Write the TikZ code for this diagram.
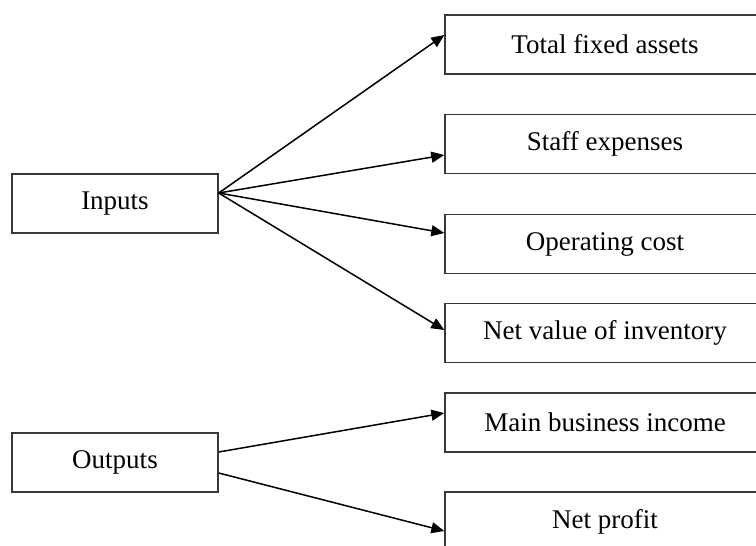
\documentclass[tikz,border=0pt]{standalone}
\usepackage{fontspec}
\setmainfont{Liberation Serif}
\usetikzlibrary{arrows.meta}

\begin{document}
\begin{tikzpicture}[x=0.5pt, y=-0.5pt,
  box/.style={draw=black!78, line width=0.7pt, fill=white, inner sep=0pt,
              minimum height=29.5pt, font=\fontsize{13.5}{16}\selectfont},
  leftbox/.style={box, minimum width=103pt},
  rightbox/.style={box, minimum width=160pt},
  link/.style={draw=black, line width=0.75pt,
               -{Triangle[length=6.5pt, width=5.5pt]}}]

  % canvas
  \fill[white] (0,0) rectangle (756,546);
  \useasboundingbox (0,0) rectangle (756,546);
  \clip (0,0) rectangle (756,546);

  % source boxes
  \node[leftbox] (in)  at (115,203.5) {Inputs};
  \node[leftbox] (out) at (115,462.5) {Outputs};

  % target boxes
  \node[rightbox] (tfa) at (605,44.5)  {Total fixed assets};
  \node[rightbox] (se)  at (605,144)   {Staff expenses};
  \node[rightbox] (oc)  at (605,244)   {Operating cost};
  \node[rightbox] (nvi) at (605,333)   {Net value of inventory};
  \node[rightbox] (mbi) at (605,422.5) {Main business income};
  \node[rightbox] (np)  at (605,521.5) {Net profit};

  % inputs fan
  \coordinate (ins) at ([yshift=5.25pt]in.east);
  \draw[link] (ins) -- ([yshift=4.75pt]tfa.west);
  \draw[link] (ins) -- ([yshift=-5.5pt]se.west);
  \draw[link] (ins) -- ([yshift=5.5pt]oc.west);
  \draw[link] (ins) -- ([yshift=1.5pt]nvi.west);

  % outputs fan
  \draw[link] ([yshift=5.25pt]out.east) -- ([yshift=4.75pt]mbi.west);
  \draw[link] ([yshift=-5.25pt]out.east) -- ([yshift=-4.75pt]np.west);
\end{tikzpicture}
\end{document}
